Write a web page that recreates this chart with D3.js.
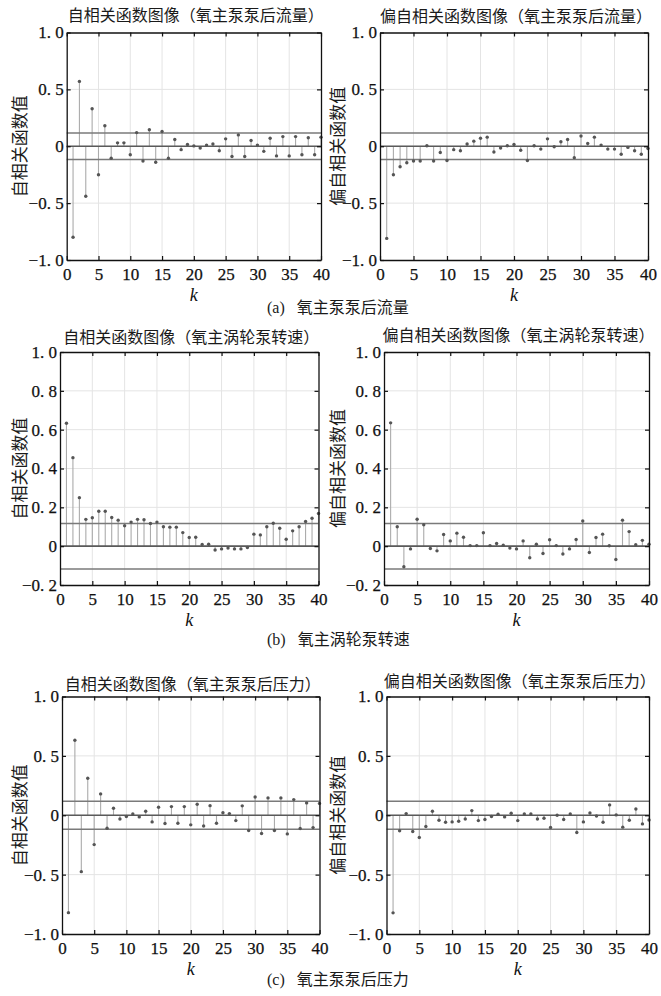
<!DOCTYPE html>
<html>
<head>
<meta charset="utf-8">
<script src="https://cdn.jsdelivr.net/npm/d3@7"></script>
<style>
  body { margin: 0; background: #fff; }
  svg { display: block; }
</style>
</head>
<body>
<div id="chart"></div>
<script>
/* DATA */
const lags = [1, 2, 3, 4, 5, 6, 7, 8, 9, 10, 11, 12, 13, 14, 15, 16, 17, 18, 19, 20,
    21, 22, 23, 24, 25, 26, 27, 28, 29, 30, 31, 32, 33, 34, 35, 36, 37, 38, 39, 40];

// (a) 氧主泵泵后流量
const flowAcf = [-0.80, 0.57, -0.44, 0.33, -0.25, 0.18, -0.105, 0.03, 0.03, -0.075,
    0.12, -0.13, 0.145, -0.14, 0.13, -0.105, 0.06, -0.03, 0.015, 0.003,
    -0.015, 0.01, 0.02, -0.04, 0.065, -0.09, 0.10, -0.09, 0.05, 0.01,
    -0.045, 0.07, -0.085, 0.085, -0.085, 0.085, -0.075, 0.075, -0.075, 0.08];
const flowPacf = [-0.81, -0.25, -0.18, -0.145, -0.13, -0.13, 0.005, -0.13, -0.055, -0.125,
    -0.03, -0.04, 0.02, 0.045, 0.07, 0.08, -0.05, -0.015, 0.005, 0.015,
    -0.035, -0.125, 0.005, -0.025, 0.065, -0.005, 0.04, 0.06, -0.10, 0.09,
    0.025, 0.08, 0.01, -0.025, -0.025, -0.07, -0.01, -0.04, -0.07, -0.02];

// (b) 氧主涡轮泵转速
const speedAcf = [0.633, 0.456, 0.25, 0.138, 0.146, 0.18, 0.18, 0.148, 0.134, 0.105,
    0.124, 0.138, 0.136, 0.117, 0.124, 0.10, 0.098, 0.098, 0.07, 0.045,
    0.046, 0.009, 0.01, -0.02, -0.014, -0.01, -0.014, -0.014, -0.007, 0.062,
    0.058, 0.10, 0.118, 0.092, 0.036, 0.079, 0.10, 0.127, 0.144, 0.168];
const speedPacf = [0.635, 0.10, -0.106, -0.014, 0.139, 0.11, -0.012, -0.024, 0.06, 0.027,
    0.067, 0.046, 0.003, 0.003, 0.069, 0.003, 0.014, 0.005, -0.01, -0.014,
    0.027, -0.06, 0.01, -0.038, 0.033, 0.003, -0.04, -0.014, 0.034, 0.13,
    -0.033, 0.045, 0.062, 0.002, -0.069, 0.134, 0.075, 0.007, 0.03, 0.01];

// (c) 氧主泵泵后压力
const pressAcf = [-0.82, 0.632, -0.475, 0.312, -0.247, 0.18, -0.11, 0.059, -0.031, -0.011,
    0.011, -0.014, 0.034, -0.056, 0.067, -0.07, 0.073, -0.067, 0.073, -0.081,
    0.093, -0.09, 0.081, -0.067, 0.022, 0.014, -0.045, 0.079, -0.129, 0.154,
    -0.154, 0.146, -0.129, 0.146, -0.157, 0.132, -0.112, 0.104, -0.104, 0.10];
const pressPacf = [-0.822, -0.131, 0.014, -0.137, -0.187, -0.095, 0.034, -0.042, -0.059, -0.056,
    -0.05, -0.031, 0.039, -0.045, -0.036, -0.011, 0.008, -0.014, 0.017, -0.045,
    0.011, 0.011, -0.031, -0.025, -0.103, 0.0, -0.036, 0.011, -0.145, -0.056,
    0.02, -0.006, -0.059, 0.087, 0.003, -0.10, -0.042, 0.053, -0.073, -0.04];

const confBound = 0.117;
const xTicks = [0, 5, 10, 15, 20, 25, 30, 35, 40];
const yTicksWide = [-1.0, -0.5, 0, 0.5, 1.0];
const yTicksSpeed = [-0.2, 0, 0.2, 0.4, 0.6, 0.8, 1.0];

const acfTitle = "自相关函数图像";
const pacfTitle = "偏自相关函数图像";
const acfLabel = "自相关函数值";
const pacfLabel = "偏自相关函数值";
const groupNames = ["氧主泵泵后流量", "氧主涡轮泵转速", "氧主泵泵后压力"];
const groupTags = ["(a)", "(b)", "(c)"];

/* LAYOUT */
const width = 661, height = 996;
const rows = [
    { acf: flowAcf, pacf: flowPacf, yDomain: [-1, 1], yTicks: yTicksWide,
      top: 32.5, bottom: 260, titleY: [21, 22], captionY: 313,
      left: [66.7, 321], right: [380, 648] },
    { acf: speedAcf, pacf: speedPacf, yDomain: [-0.2, 1], yTicks: yTicksSpeed,
      top: 352, bottom: 585, titleY: [343, 341], captionY: 645,
      left: [60, 318.5], right: [384, 649] },
    { acf: pressAcf, pacf: pressPacf, yDomain: [-1, 1], yTicks: yTicksWide,
      top: 696.5, bottom: 934, titleY: [690, 687], captionY: 985,
      left: [62, 319.5], right: [386.5, 649] }
];

const svg = d3.select("#chart").append("svg")
    .attr("width", width)
    .attr("height", height);

svg.append("rect").attr("width", width).attr("height", height).attr("fill", "#fff");

const cjk = "'Noto Sans CJK SC', 'Noto Sans', sans-serif";
const serif = "'Liberation Serif', 'DejaVu Serif', serif";

const yFormat = d => d === 0 ? "0" : d3.format(".1f")(d).replace(".", ". ");

function drawPanel(values, title, ylabel, xRange, row, titleY, labelX) {
    const x = d3.scaleLinear().domain([0, 40]).range(xRange);
    const y = d3.scaleLinear().domain(row.yDomain).range([row.bottom, row.top]);
    const g = svg.append("g");

    // grid
    g.selectAll("line.vgrid")
        .data(xTicks.slice(1, -1))
        .join("line")
        .attr("class", "vgrid")
        .attr("x1", d => x(d)).attr("x2", d => x(d))
        .attr("y1", row.top).attr("y2", row.bottom)
        .attr("stroke", "#e4e4e4").attr("stroke-width", 1);
    g.selectAll("line.hgrid")
        .data(row.yTicks.slice(1, -1))
        .join("line")
        .attr("class", "hgrid")
        .attr("x1", xRange[0]).attr("x2", xRange[1])
        .attr("y1", d => y(d)).attr("y2", d => y(d))
        .attr("stroke", "#e4e4e4").attr("stroke-width", 1);

    // stems
    g.selectAll("line.stem")
        .data(values)
        .join("line")
        .attr("class", "stem")
        .attr("x1", (d, i) => x(lags[i])).attr("x2", (d, i) => x(lags[i]))
        .attr("y1", y(0)).attr("y2", d => y(d))
        .attr("stroke", "#ababab").attr("stroke-width", 1.1);

    // zero + confidence bounds
    g.selectAll("line.ref")
        .data([confBound, -confBound])
        .join("line")
        .attr("class", "ref")
        .attr("x1", xRange[0]).attr("x2", xRange[1])
        .attr("y1", d => y(d)).attr("y2", d => y(d))
        .attr("stroke", "#7a7a7a").attr("stroke-width", 1.5);
    g.append("line")
        .attr("x1", xRange[0]).attr("x2", xRange[1])
        .attr("y1", y(0)).attr("y2", y(0))
        .attr("stroke", "#5a5a5a").attr("stroke-width", 1.6);

    // markers
    g.selectAll("circle.pt")
        .data(values)
        .join("circle")
        .attr("class", "pt")
        .attr("cx", (d, i) => x(lags[i]))
        .attr("cy", d => y(d))
        .attr("r", 1.7)
        .attr("fill", "#555");

    // axes (inward ticks all round)
    const bottomAxis = g.append("g")
        .attr("transform", `translate(0, ${row.bottom})`)
        .call(d3.axisBottom(x).tickValues(xTicks).tickSizeInner(-4).tickSizeOuter(0).tickPadding(8));
    g.append("g")
        .attr("transform", `translate(0, ${row.top})`)
        .call(d3.axisTop(x).tickValues(xTicks).tickSizeInner(-4).tickSizeOuter(0).tickFormat(""));
    const leftAxis = g.append("g")
        .attr("transform", `translate(${xRange[0]}, 0)`)
        .call(d3.axisLeft(y).tickValues(row.yTicks).tickSizeInner(-4).tickSizeOuter(0)
            .tickPadding(3).tickFormat(yFormat));
    g.append("g")
        .attr("transform", `translate(${xRange[1]}, 0)`)
        .call(d3.axisRight(y).tickValues(row.yTicks).tickSizeInner(-4).tickSizeOuter(0).tickFormat(""));

    g.selectAll(".domain").attr("stroke", "#111").attr("stroke-width", 1.3);
    g.selectAll(".tick line").attr("stroke", "#111").attr("stroke-width", 1.2);
    [bottomAxis, leftAxis].forEach(a => a.selectAll("text")
        .attr("font-family", serif)
        .attr("font-size", 17)
        .attr("fill", "#111")
        .attr("stroke", "#111")
        .attr("stroke-width", 0.25));

    // titles and labels
    g.append("text")
        .attr("x", (xRange[0] + xRange[1]) / 2 + 2)
        .attr("y", titleY)
        .attr("text-anchor", "middle")
        .attr("font-family", cjk)
        .attr("font-size", 16)
        .attr("fill", "#1a1a1a")
        .text(title);

    g.append("text")
        .attr("transform", `translate(${labelX}, ${(row.top + row.bottom) / 2}) rotate(-90)`)
        .attr("text-anchor", "middle")
        .attr("dominant-baseline", "central")
        .attr("font-family", cjk)
        .attr("font-size", 17)
        .attr("fill", "#1a1a1a")
        .text(ylabel);

    g.append("text")
        .attr("x", (xRange[0] + xRange[1]) / 2)
        .attr("y", row.bottom + 41)
        .attr("text-anchor", "middle")
        .attr("font-family", serif)
        .attr("font-style", "italic")
        .attr("font-size", 18)
        .attr("fill", "#111")
        .text("k");
}

rows.forEach((row, i) => {
    drawPanel(row.acf, `${acfTitle}（${groupNames[i]}）`, acfLabel, row.left, row, row.titleY[0], 18);
    drawPanel(row.pacf, `${pacfTitle}（${groupNames[i]}）`, pacfLabel, row.right, row, row.titleY[1], 336);

    const cap = svg.append("text")
        .attr("x", 267)
        .attr("y", row.captionY)
        .attr("fill", "#1a1a1a")
        .attr("font-size", 16);
    cap.append("tspan").attr("font-family", serif).text(groupTags[i]);
    cap.append("tspan").attr("font-family", cjk).attr("dx", 12).text(groupNames[i]);
});
</script>
</body>
</html>
